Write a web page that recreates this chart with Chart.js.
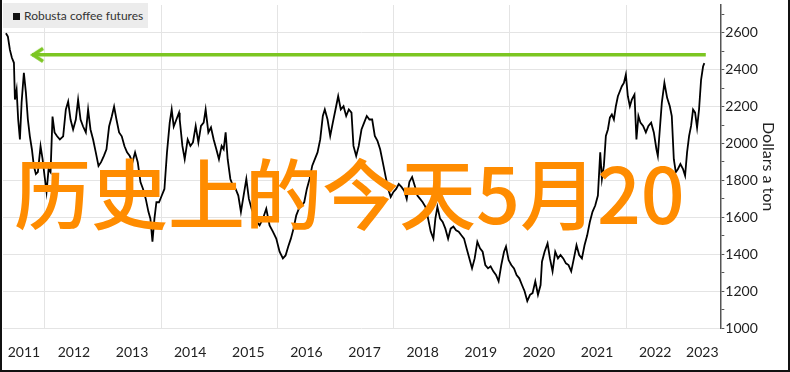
<!DOCTYPE html>
<html>
<head>
<meta charset="utf-8">
<script src="https://cdn.jsdelivr.net/npm/chart.js@4.4.1/dist/chart.umd.min.js"></script>
<style>
  html, body { margin: 0; padding: 0; background: #fff; }
  #frame {
    position: relative; width: 790px; height: 372px; box-sizing: border-box;
    border-left: 2px solid #111; border-right: 2px solid #111; border-bottom: 2px solid #111;
    background: #fff; overflow: hidden;
  }
  #wrap { position: absolute; left: 0; top: 0; width: 786px; height: 370px; }
  #legend {
    position: absolute; left: 1px; top: 3px; width: 145px; height: 25px; background: #ececec;
    font-family: Lato, sans-serif; font-size: 12px; color: #333; line-height: 25px;
  }
  #legend i { position: absolute; left: 10px; top: 10px; width: 7px; height: 7px; background: #111; }
  #legend span { position: absolute; left: 21px; top: 0; white-space: nowrap; }
  #stamp {
    position: absolute; left: 12px; top: 152px; white-space: nowrap;
    font-family: "Noto Sans CJK SC", sans-serif; font-size: 77px; line-height: 1;
    color: #ff8c00; font-weight: 500;
  }
</style>
</head>
<body>
<div id="frame">
  <div id="wrap"><canvas id="chart"></canvas></div>
  <div id="legend"><i></i><span>Robusta coffee futures</span></div>
  <div id="stamp">历史上的今天5月20</div>
</div>
<script>
// robusta coffee futures, decimal year -> dollars a ton
const years = [
  2011.330, 2011.364, 2011.399, 2011.433, 2011.468, 2011.485, 2011.514, 2011.541, 2011.571, 2011.600,
  2011.639, 2011.674, 2011.708, 2011.742, 2011.777, 2011.811, 2011.846, 2011.880, 2011.926, 2011.961,
  2011.995, 2012.029, 2012.064, 2012.098, 2012.132, 2012.167, 2012.211, 2012.258, 2012.315, 2012.361,
  2012.401, 2012.442, 2012.486, 2012.533, 2012.572, 2012.614, 2012.658, 2012.705, 2012.744, 2012.785,
  2012.830, 2012.876, 2012.923, 2012.967, 2013.014, 2013.060, 2013.105, 2013.151, 2013.191, 2013.232,
  2013.277, 2013.323, 2013.370, 2013.414, 2013.461, 2013.507, 2013.552, 2013.598, 2013.645, 2013.689,
  2013.736, 2013.782, 2013.816, 2013.851, 2013.885, 2013.919, 2013.964, 2014.010, 2014.057, 2014.101,
  2014.148, 2014.182, 2014.217, 2014.263, 2014.308, 2014.320, 2014.366, 2014.406, 2014.457, 2014.504,
  2014.548, 2014.595, 2014.641, 2014.686, 2014.732, 2014.766, 2014.813, 2014.858, 2014.904, 2014.950,
  2014.995, 2015.041, 2015.076, 2015.110, 2015.145, 2015.191, 2015.236, 2015.282, 2015.328, 2015.373,
  2015.419, 2015.466, 2015.510, 2015.557, 2015.603, 2015.648, 2015.694, 2015.751, 2015.809, 2015.866,
  2015.923, 2015.981, 2016.038, 2016.095, 2016.141, 2016.187, 2016.232, 2016.278, 2016.325, 2016.370,
  2016.416, 2016.462, 2016.507, 2016.554, 2016.600, 2016.645, 2016.691, 2016.737, 2016.782, 2016.816,
  2016.863, 2016.909, 2016.954, 2017.000, 2017.046, 2017.091, 2017.138, 2017.184, 2017.229, 2017.275,
  2017.309, 2017.356, 2017.400, 2017.447, 2017.493, 2017.538, 2017.584, 2017.631, 2017.676, 2017.722,
  2017.768, 2017.813, 2017.859, 2017.906, 2017.950, 2017.997, 2018.043, 2018.088, 2018.134, 2018.181,
  2018.225, 2018.271, 2018.318, 2018.363, 2018.409, 2018.455, 2018.500, 2018.547, 2018.593, 2018.638,
  2018.684, 2018.718, 2018.753, 2018.799, 2018.844, 2018.890, 2018.937, 2018.981, 2019.028, 2019.074,
  2019.119, 2019.165, 2019.211, 2019.256, 2019.303, 2019.349, 2019.394, 2019.440, 2019.486, 2019.531,
  2019.577, 2019.624, 2019.668, 2019.715, 2019.761, 2019.806, 2019.852, 2019.899, 2019.933, 2019.978,
  2020.024, 2020.071, 2020.115, 2020.162, 2020.208, 2020.253, 2020.299, 2020.346, 2020.390, 2020.437,
  2020.483, 2020.528, 2020.552, 2020.597, 2020.648, 2020.689, 2020.734, 2020.780, 2020.827, 2020.871,
  2020.918, 2020.964, 2021.009, 2021.055, 2021.101, 2021.146, 2021.192, 2021.239, 2021.284, 2021.330,
  2021.376, 2021.421, 2021.468, 2021.514, 2021.554, 2021.583, 2021.617, 2021.651, 2021.686, 2021.720,
  2021.754, 2021.789, 2021.823, 2021.858, 2021.892, 2021.926, 2021.961, 2021.995, 2022.029, 2022.064,
  2022.098, 2022.143, 2022.177, 2022.211, 2022.246, 2022.292, 2022.339, 2022.383, 2022.430, 2022.476,
  2022.521, 2022.545, 2022.579, 2022.614, 2022.658, 2022.705, 2022.751, 2022.785, 2022.820, 2022.854,
  2022.889, 2022.933, 2022.979, 2023.014, 2023.048, 2023.083, 2023.117, 2023.151, 2023.186, 2023.220,
  2023.254, 2023.289, 2023.323, 2023.345
];
const prices = [
  2597, 2579, 2507, 2464, 2437, 2238, 2292, 2130, 2022, 2222,
  2383, 2276, 2130, 2039, 1969, 1878, 1835, 1845, 1985, 1915,
  1824, 1738, 1861, 1845, 2146, 2060, 2039, 2022, 2039, 2184,
  2227, 2130, 2076, 2130, 2238, 2130, 2092, 2060, 2184, 2076,
  2022, 1952, 1878, 1899, 1932, 1969, 2092, 2146, 2200, 2130,
  2060, 2039, 1985, 1952, 1932, 1899, 1952, 1899, 1791, 1754,
  1700, 1630, 1593, 1468, 1593, 1682, 1682, 1717, 1754, 1952,
  2113, 2184, 2092, 2130, 2167, 2130, 1987, 1915, 2022, 1987,
  2006, 2095, 2006, 2095, 2113, 2184, 2060, 2087, 2022, 1969,
  1915, 1987, 1969, 2060, 1915, 1808, 1771, 1754, 1718, 1630,
  1718, 1808, 1700, 1647, 1611, 1575, 1557, 1593, 1647, 1557,
  1523, 1485, 1414, 1378, 1394, 1442, 1485, 1539, 1611, 1647,
  1664, 1682, 1754, 1808, 1880, 1915, 1952, 2022, 2149, 2184,
  2130, 2041, 2113, 2184, 2256, 2184, 2202, 2149, 2184, 2167,
  1987, 1933, 1987, 2076, 2113, 2149, 2130, 2130, 2041, 2014,
  1969, 1899, 1826, 1754, 1711, 1738, 1754, 1781, 1765, 1745,
  1700, 1792, 1819, 1772, 1718, 1700, 1682, 1657, 1593, 1523,
  1485, 1593, 1657, 1593, 1575, 1539, 1485, 1539, 1550, 1530,
  1523, 1503, 1485, 1432, 1378, 1324, 1378, 1468, 1432, 1414,
  1342, 1324, 1335, 1308, 1288, 1254, 1342, 1414, 1442, 1369,
  1342, 1324, 1288, 1270, 1234, 1200, 1147, 1181, 1190, 1254,
  1181, 1234, 1360, 1414, 1459, 1378, 1308, 1414, 1378, 1396,
  1378, 1351, 1342, 1308, 1378, 1449, 1396, 1378, 1449, 1503,
  1576, 1630, 1664, 1718, 1952, 1808, 1880, 2041, 2076, 2140,
  2157, 2130, 2202, 2256, 2283, 2310, 2328, 2373, 2256, 2202,
  2238, 2265, 2022, 2149, 2113, 2095, 2060, 2095, 2113, 2060,
  1969, 1933, 2076, 2222, 2328, 2247, 2202, 2149, 1915, 1845,
  1861, 1889, 1861, 1826, 1952, 2041, 2095, 2184, 2167, 2086,
  2184, 2345, 2417, 2435
];

// green arrow annotation (level and span, in data units)
const arrowLevel = 2480;
const arrowFrom = 2011.78;
const arrowTo = 2023.37;

const xLabels = ['2011', '2012', '2013', '2014', '2015', '2016', '2017', '2018', '2019', '2020', '2021', '2022', '2023'];
const xGridYears = [2012, 2014, 2016, 2018, 2020, 2022];
const xMin = 2011.28, xMax = 2023.62;
const yMin = 1000, yMax = 2750;

// label each year in the middle of the part of it that is shown
const xLabelAt = xLabels.map(s => {
  const y = parseInt(s);
  return (Math.max(y, xMin) + Math.min(y + 1, xMax)) / 2;
});

// open chevron used as the arrow head
function makeChevron() {
  const c = document.createElement('canvas');
  c.width = 26; c.height = 18;
  const g = c.getContext('2d');
  g.strokeStyle = '#7cc622';
  g.lineWidth = 3.5;
  g.lineJoin = 'miter';
  g.beginPath();
  g.moveTo(24, 2.5);
  g.lineTo(14, 9);
  g.lineTo(24, 15.5);
  g.stroke();
  return c;
}

const font = 'Lato, sans-serif';
const xPad = 16;

new Chart(document.getElementById('chart'), {
  type: 'line',
  data: {
    datasets: [
      {
        label: 'Robusta coffee futures',
        data: years.map((t, i) => ({ x: t, y: prices[i] })),
        borderColor: '#000',
        borderWidth: 1.8,
        pointRadius: 0,
        tension: 0
      },
      {
        label: 'arrow',
        data: [{ x: arrowFrom, y: arrowLevel }, { x: arrowTo, y: arrowLevel }],
        borderColor: '#7cc622',
        borderWidth: 3.5,
        pointStyle: [makeChevron(), 'circle'],
        pointRadius: [6, 0],
        pointHoverRadius: 0
      }
    ]
  },
  options: {
    responsive: true,
    maintainAspectRatio: false,
    animation: false,
    layout: { autoPadding: false, padding: { left: 1, right: 7, top: 5, bottom: 9 } },
    plugins: { legend: { display: false }, tooltip: { enabled: false } },
    scales: {
      x: {
        type: 'linear',
        min: xMin,
        max: xMax,
        afterBuildTicks: axis => {
          axis.ticks = xGridYears.concat(xLabelAt).sort((a, b) => a - b).map(v => ({ value: v }));
        },
        afterFit: s => { s.height -= xPad; s.paddingLeft = 0; s.paddingRight = 0; },
        ticks: {
          autoSkip: false,
          maxRotation: 0,
          padding: xPad,
          color: '#222',
          font: { family: font, size: 14 },
          callback: v => {
            const i = xLabelAt.findIndex(p => Math.abs(p - v) < 1e-6);
            return i >= 0 ? xLabels[i] : '';
          }
        },
        grid: {
          drawTicks: false,
          color: ctx => (ctx.tick && xGridYears.includes(ctx.tick.value)) ? '#e4e4e4' : 'rgba(0,0,0,0)'
        },
        border: { display: false }
      },
      y: {
        position: 'right',
        min: yMin,
        max: yMax,
        afterFit: s => { s.paddingTop = 0; s.paddingBottom = 0; },
        ticks: {
          stepSize: 100,
          autoSkip: false,
          includeBounds: false,
          padding: 1,
          color: '#222',
          font: { family: font, size: 14 },
          callback: v => (v % 200 === 0 ? String(v) : '')
        },
        grid: {
          tickLength: 4,
          tickColor: '#555',
          color: ctx => (ctx.tick && ctx.tick.value % 200 === 0) ? '#e4e4e4' : 'rgba(0,0,0,0)'
        },
        border: { display: true, color: '#555', width: 1.5 },
        title: {
          display: true,
          text: 'Dollars a ton',
          color: '#222',
          font: { family: font, size: 16 },
          padding: { top: 3, bottom: 0 }
        }
      }
    }
  }
});
</script>
</body>
</html>
